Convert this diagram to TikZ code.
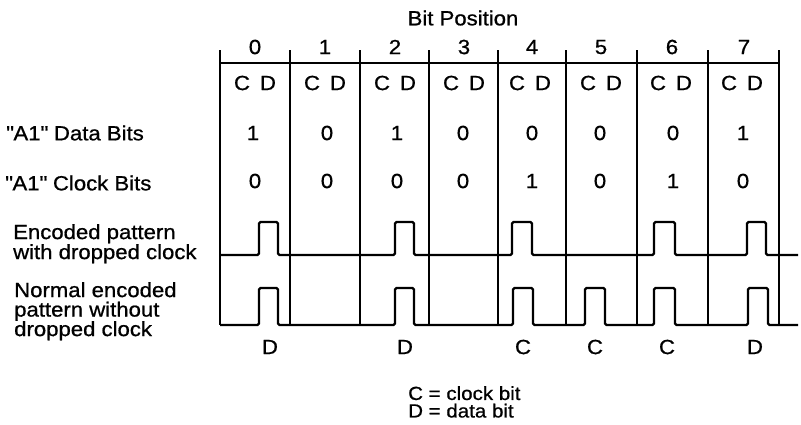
\documentclass[tikz,border=0pt]{standalone}
\usepackage{fontspec}
\setmainfont[FakeStretch=1.08, FakeBold=0.8]{Liberation Sans}
\usepackage{tikz}

\tikzset{
  txt/.style={font=\fontsize{20.5}{20}\selectfont, inner sep=0pt},
  cell/.style={line width=2.5pt},
  wave/.style={line width=2.2pt, rounded corners=1.5pt},
}

\begin{document}
\begin{tikzpicture}[x=1pt, y=-1pt]
		\useasboundingbox (0,0) rectangle (801,424);

		% heading and bit numbers
		\node[txt] (title) at (463,18) {Bit Position};
		\node[txt] (b0) at (255,47) {0};
		\node[txt] (b1) at (325,47) {1};
		\node[txt] (b2) at (395,47) {2};
		\node[txt] (b3) at (464,47) {3};
		\node[txt] (b4) at (532,47) {4};
		\node[txt] (b5) at (601,47) {5};
		\node[txt] (b6) at (672,47) {6};
		\node[txt] (b7) at (744,47) {7};

		% cell frame
		\draw[cell] (220,63) -- (779,63);
		\draw[cell] (220,50) -- (220,325);
		\draw[cell] (290,50) -- (290,325);
		\draw[cell] (360,50) -- (360,325);
		\draw[cell] (429,50) -- (429,325);
		\draw[cell] (498,50) -- (498,325);
		\draw[cell] (566,50) -- (566,325);
		\draw[cell] (637,50) -- (637,325);
		\draw[cell] (708,50) -- (708,325);
		\draw[cell] (779,50) -- (779,325);

		% C D halves
		\node[txt] (cd0) at (255,83) {C\hspace{10pt}D};
		\node[txt] (cd1) at (325,83) {C\hspace{10pt}D};
		\node[txt] (cd2) at (395,83) {C\hspace{10pt}D};
		\node[txt] (cd3) at (464,83) {C\hspace{10pt}D};
		\node[txt] (cd4) at (530,83) {C\hspace{10pt}D};
		\node[txt] (cd5) at (601,83) {C\hspace{10pt}D};
		\node[txt] (cd6) at (671,83) {C\hspace{10pt}D};
		\node[txt] (cd7) at (742,83) {C\hspace{10pt}D};

		% row labels
		\node[txt, anchor=west] (data) at (6,133) {\textquotedbl A1\textquotedbl\ Data Bits};
		\node[txt, anchor=west] (clock) at (5,183) {\textquotedbl A1\textquotedbl\ Clock Bits};
		\node[txt, anchor=north west, align=left] (enc) at (13,224)
			{Encoded pattern\\with dropped clock};
		\node[txt, anchor=north west, align=left, font=\fontsize{20.5}{19.5}\selectfont] (norm) at (14,282)
			{Normal encoded\\pattern without\\dropped clock};

		% data bits
		\node[txt] (d0) at (253,133) {1};
		\node[txt] (d1) at (327,133) {0};
		\node[txt] (d2) at (397,133) {1};
		\node[txt] (d3) at (463,133) {0};
		\node[txt] (d4) at (532,133) {0};
		\node[txt] (d5) at (600,133) {0};
		\node[txt] (d6) at (673,133) {0};
		\node[txt] (d7) at (743,133) {1};

		% clock bits
		\node[txt] (c0) at (255,181) {0};
		\node[txt] (c1) at (327,181) {0};
		\node[txt] (c2) at (397,181) {0};
		\node[txt] (c3) at (463,181) {0};
		\node[txt] (c4) at (532,181) {1};
		\node[txt] (c5) at (600,181) {0};
		\node[txt] (c6) at (673,181) {1};
		\node[txt] (c7) at (743,181) {0};

		% encoded pattern with dropped clock
		\draw[wave] (220,255) -- (259,255) -- (259,222) -- (278,222) -- (278,255)
			-- (395,255) -- (395,222) -- (414,222) -- (414,255)
			-- (512,255) -- (512,222) -- (532,222) -- (532,255)
			-- (654,255) -- (654,222) -- (675,222) -- (675,255)
			-- (747,255) -- (747,222) -- (766,222) -- (766,255)
			-- (798,255);

		% normal encoded pattern
		\draw[wave] (220,325) -- (259,325) -- (259,288) -- (278,288) -- (278,325)
			-- (395,325) -- (395,288) -- (414,288) -- (414,325)
			-- (513,325) -- (513,288) -- (533,288) -- (533,325)
			-- (585,325) -- (585,288) -- (605,288) -- (605,325)
			-- (654,325) -- (654,288) -- (675,288) -- (675,325)
			-- (748,325) -- (748,288) -- (768,288) -- (768,325)
			-- (798,325);

		% pulse kinds
		\node[txt] (p0) at (270,347) {D};
		\node[txt] (p2) at (405,347) {D};
		\node[txt] (p4) at (523,347) {C};
		\node[txt] (p5) at (595,347) {C};
		\node[txt] (p6) at (667,347) {C};
		\node[txt] (p7) at (755,347) {D};

		% legend
		\node[txt, anchor=north west, align=left, font=\fontsize{19}{17.5}\selectfont] (key) at (408,386)
			{C = clock bit\\D = data bit};

		\end{tikzpicture}
\end{document}
